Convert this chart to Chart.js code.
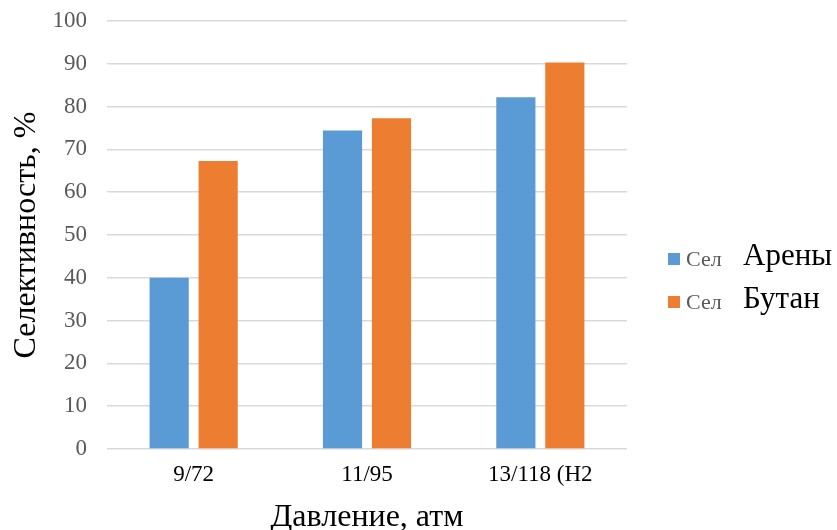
<!DOCTYPE html>
<html>
<head>
<meta charset="utf-8">
<script src="https://cdn.jsdelivr.net/npm/chart.js@4"></script>
<style>
  html, body { margin: 0; padding: 0; background: #fff; }
  #wrap { width: 837px; height: 530px; }
</style>
</head>
<body>
<div id="wrap"><canvas id="c" width="837" height="530"></canvas></div>
<script>
// Давление, атм — categories
const categories = ['9/72', '11/95', '13/118 (H2'];
// Селективность, % by product
const arenes = [40, 74.4, 82.2];
const butane = [67.3, 77.3, 90.3];
// legend wording: short prefix + product name
const legendPrefix = ['Сел', 'Сел'];
const legendNames = ['Арены', 'Бутан'];
const yTicks = [0, 10, 20, 30, 40, 50, 60, 70, 80, 90, 100];

const SERIF = '"Liberation Serif", "Times New Roman", serif';
const colors = ['#5b9bd5', '#ed7d31'];

// Legend drawn on the canvas: small grey prefix, larger black name
const sideLegend = {
  id: 'sideLegend',
  afterDraw(chart) {
    const ctx = chart.ctx;
    ctx.save();
    chart.data.datasets.forEach((ds, i) => {
      const base = 265 + i * 43;
      ctx.fillStyle = ds.backgroundColor;
      ctx.fillRect(668, base - 12, 12, 12);
      ctx.textBaseline = 'alphabetic';
      ctx.textAlign = 'left';
      ctx.fillStyle = '#595959';
      ctx.font = '22px ' + SERIF;
      ctx.fillText(legendPrefix[i], 686, base + 1);
      ctx.fillStyle = '#000';
      ctx.font = '31px ' + SERIF;
      ctx.fillText(legendNames[i], 743, base);
    });
    ctx.restore();
  }
};

new Chart(document.getElementById('c'), {
  type: 'bar',
  data: {
    labels: categories,
    datasets: [
      { label: legendPrefix[0] + ' ' + legendNames[0], data: arenes, backgroundColor: colors[0] },
      { label: legendPrefix[1] + ' ' + legendNames[1], data: butane, backgroundColor: colors[1] }
    ]
  },
  options: {
    responsive: false,
    animation: false,
    layout: { padding: { top: 21, right: 210, bottom: 0, left: 0 } },
    datasets: { bar: { categoryPercentage: 0.565, barPercentage: 0.8 } },
    plugins: { legend: { display: false }, tooltip: { enabled: false } },
    scales: {
      x: {
        grid: { display: false },
        border: { display: false },
        ticks: { color: '#000', font: { family: SERIF, size: 23 }, padding: 4 },
        title: { display: true, text: 'Давление, атм', color: '#000', font: { family: SERIF, size: 32 }, padding: { top: 0, bottom: -7 } },
        afterFit(s) { s.height = 81; }
      },
      y: {
        min: 0, max: 100,
        afterBuildTicks(s) { s.ticks = yTicks.map(v => ({ value: v })); },
        grid: { color: '#d9d9d9', lineWidth: 1.5, drawTicks: true, tickLength: 20, tickColor: 'rgba(0,0,0,0)' },
        border: { display: false },
        ticks: { color: '#595959', font: { family: SERIF, size: 23 }, padding: 0 },
        title: { display: true, text: 'Селективность, %', color: '#000', font: { family: SERIF, size: 32 }, padding: { top: 7, bottom: 0 } },
        afterFit(s) { s.width = 107; }
      }
    }
  },
  plugins: [sideLegend]
});
</script>
</body>
</html>
